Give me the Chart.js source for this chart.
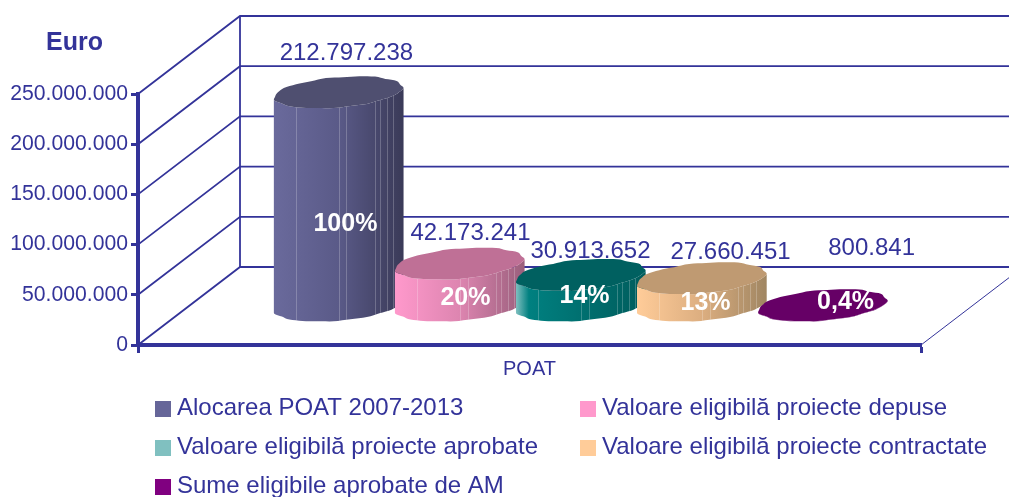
<!DOCTYPE html>
<html>
<head>
<meta charset="utf-8">
<style>
  html, body { margin: 0; padding: 0; background: #fff; overflow: hidden; }
  canvas { display: block; }
</style>
<script src="https://cdn.jsdelivr.net/npm/chart.js@4/dist/chart.umd.min.js"></script>
</head>
<body>
<canvas id="myChart" width="1009" height="497"></canvas>
<script>
const categories = ["POAT"];
const seriesNames = [
  "Alocarea POAT 2007-2013",
  "Valoare eligibilă proiecte depuse",
  "Valoare eligibilă proiecte aprobate",
  "Valoare eligibilă proiecte contractate",
  "Sume eligibile aprobate de AM",
];
const seriesValues = [212797238, 42173241, 30913652, 27660451, 800841];
const percentLabels = ["100%", "20%", "14%", "13%", "0,4%"];
const legendColors = ["#666699", "#ff99cc", "#80c0c0", "#ffcc99", "#800080"];
const topColors = ["#4f4f70", "#bf7096", "#006060", "#bf9a72", "#660066"];
const sideStops = [
  ["#6a6a9c", "#5a5a88", "#3a3a58"],
  ["#ff99cc", "#dd85b0", "#9a5f7c"],
  ["#80c0c0", "#008080", "#005c5c"],
  ["#ffcc99", "#dcae80", "#a08662"],
  ["#660066", "#660066", "#660066"],
];

const ink = "#333399";
const font = "'Liberation Sans', Arial, sans-serif";
const depthX = 102;
const depthY = 78;

// lumpy outline of the low-poly cylinders
const rimBumps = [1, 1.02, 0.98, 1.01, 0.97, 1.02, 1, 0.98, 1.03, 0.98, 1.01, 1.03,
                  1, 0.99, 1.02, 0.98, 1.01, 1, 0.98, 1.02, 0.99, 1.02, 0.98, 1];
const facetLines = [0.17, 0.5, 0.56, 0.78, 0.82, 0.87, 0.92];
// label nudges from the centre of each bar top: [dx, dy]
const valueNudge = [[8, -39], [11, -30], [10, -24], [29, -26], [49, -57]];
const percentNudge = [[7, 132], [6, 34], [4, 21], [4, 25], [23, -3]];

function rim(cx, cy) {
  const a = 60.5, dx = 21, dy = 16, steps = 96, n = rimBumps.length;
  const pts = [];
  for (let i = 0; i < steps; i++) {
    const t = (i / steps) * Math.PI * 2;
    const pos = (i / steps) * n;
    const k = Math.floor(pos);
    const f = (1 - Math.cos((pos - k) * Math.PI)) / 2;
    const w = rimBumps[k] * (1 - f) + rimBumps[(k + 1) % n] * f;
    pts.push([cx + w * (a * Math.cos(t) + dx * Math.sin(t)), cy - w * dy * Math.sin(t)]);
  }
  return pts;
}

function tracePoly(ctx, pts) {
  ctx.beginPath();
  pts.forEach((p, i) => (i ? ctx.lineTo(p[0], p[1]) : ctx.moveTo(p[0], p[1])));
  ctx.closePath();
}

// front half of a rim, going left to right
function frontHalf(pts) {
  let l = 0, r = 0;
  pts.forEach((p, i) => {
    if (p[0] < pts[l][0]) l = i;
    if (p[0] > pts[r][0]) r = i;
  });
  const out = [];
  for (let i = l; ; i = (i + 1) % pts.length) {
    out.push(pts[i]);
    if (i === r) break;
  }
  return out;
}

const roomPlugin = {
  id: "room",
  beforeDatasetsDraw(chart) {
    const { ctx, scales, chartArea } = chart;
    const y = scales.y;
    ctx.save();
    ctx.strokeStyle = ink;
    ctx.lineWidth = 1.8;
    const backX = chartArea.left + depthX;
    y.ticks.forEach((t) => {
      const py = y.getPixelForValue(t.value);
      ctx.beginPath();
      ctx.moveTo(chartArea.left, py);
      ctx.lineTo(backX, py - depthY);
      ctx.lineTo(1009, py - depthY);
      ctx.stroke();
    });
    ctx.beginPath();
    ctx.moveTo(backX, y.getPixelForValue(y.max) - depthY);
    ctx.lineTo(backX, y.getPixelForValue(0) - depthY);
    ctx.stroke();
    ctx.lineWidth = 1;
    ctx.beginPath();
    ctx.moveTo(chartArea.right, chartArea.bottom);
    ctx.lineTo(chartArea.right + depthX, chartArea.bottom - depthY);
    ctx.stroke();
    ctx.restore();
  },
  afterDatasetsDraw(chart) {
    const { ctx } = chart;
    ctx.save();
    chart.data.datasets.forEach((ds, i) => {
      const bar = chart.getDatasetMeta(i).data[0];
      const cx = bar.x + depthX / 2;
      const topY = bar.y - depthY / 2;
      const baseY = bar.base - depthY / 2;
      const topRim = rim(cx, topY);
      const baseRim = rim(cx, baseY);
      const front = frontHalf(baseRim);
      const frontTop = frontHalf(topRim).reverse();
      const left = front[0][0], right = front[front.length - 1][0];

      const g = ctx.createLinearGradient(left, 0, right, 0);
      g.addColorStop(0, sideStops[i][0]);
      g.addColorStop(i === 2 ? 0.1 : 0.5, sideStops[i][1]);
      g.addColorStop(1, sideStops[i][2]);
      tracePoly(ctx, front.concat(frontTop));
      ctx.fillStyle = g;
      ctx.fill();

      if (baseY - topY > 8) {
        ctx.save();
        tracePoly(ctx, front.concat(frontTop));
        ctx.clip();
        ctx.strokeStyle = "rgba(255,255,255,0.22)";
        ctx.lineWidth = 1;
        facetLines.forEach((f) => {
          const lx = Math.round(left + f * (right - left)) + 0.5;
          ctx.beginPath();
          ctx.moveTo(lx, topY - 30);
          ctx.lineTo(lx, baseY + 30);
          ctx.stroke();
        });
        ctx.restore();
      }

      tracePoly(ctx, topRim);
      ctx.fillStyle = topColors[i];
      ctx.fill();
    });

    ctx.textAlign = "center";
    ctx.textBaseline = "middle";
    chart.data.datasets.forEach((ds, i) => {
      const bar = chart.getDatasetMeta(i).data[0];
      const cx = bar.x + depthX / 2;
      const topY = bar.y - depthY / 2;
      ctx.font = "24px " + font;
      ctx.fillStyle = ink;
      ctx.fillText(seriesValues[i].toLocaleString("de-DE"), cx + valueNudge[i][0], topY + valueNudge[i][1]);
      ctx.font = "bold 25px " + font;
      ctx.fillStyle = "#ffffff";
      ctx.fillText(percentLabels[i], cx + percentNudge[i][0], topY + percentNudge[i][1]);
    });

    // axis title and two column legend
    ctx.textAlign = "left";
    ctx.fillStyle = ink;
    ctx.font = "bold 25px " + font;
    ctx.fillText("Euro", 46, 43);
    ctx.font = "24px " + font;
    seriesNames.forEach((name, i) => {
      const lx = i % 2 ? 580 : 155;
      const ly = 409 + Math.floor(i / 2) * 39;
      ctx.fillStyle = legendColors[i];
      ctx.fillRect(lx, ly - 8, 16, 16);
      ctx.fillStyle = ink;
      ctx.fillText(name, lx + 22, ly - 1);
    });
    ctx.restore();
  },
};

const datasets = seriesNames.map((name, i) => ({
  label: name,
  data: [seriesValues[i]],
  backgroundColor: "rgba(0,0,0,0)",
}));

new Chart(document.getElementById("myChart"), {
  type: "bar",
  data: { labels: categories, datasets: datasets },
  plugins: [roomPlugin],
  options: {
    responsive: false,
    animation: false,
    layout: { padding: { top: 94, right: 88, left: 0, bottom: 0 } },
    categoryPercentage: 0.773,
    barPercentage: 1.06,
    plugins: { legend: { display: false }, tooltip: { enabled: false } },
    scales: {
      x: {
        afterFit: (s) => { s.height = 152; },
        border: { color: ink, width: 4 },
        grid: { drawOnChartArea: false, color: ink, tickLength: 8, tickWidth: 3 },
        ticks: { color: ink, font: { size: 20, family: font }, padding: 4 },
      },
      y: {
        min: 0,
        max: 250000000,
        afterFit: (s) => { s.width = 138; },
        border: { color: ink, width: 4 },
        grid: { drawOnChartArea: false, color: ink, tickLength: 7, tickWidth: 3 },
        ticks: {
          stepSize: 50000000,
          color: ink,
          font: { size: 21.2, family: font },
          padding: 3,
          callback: (v) => v.toLocaleString("de-DE"),
        },
      },
    },
  },
});
</script>
</body>
</html>
